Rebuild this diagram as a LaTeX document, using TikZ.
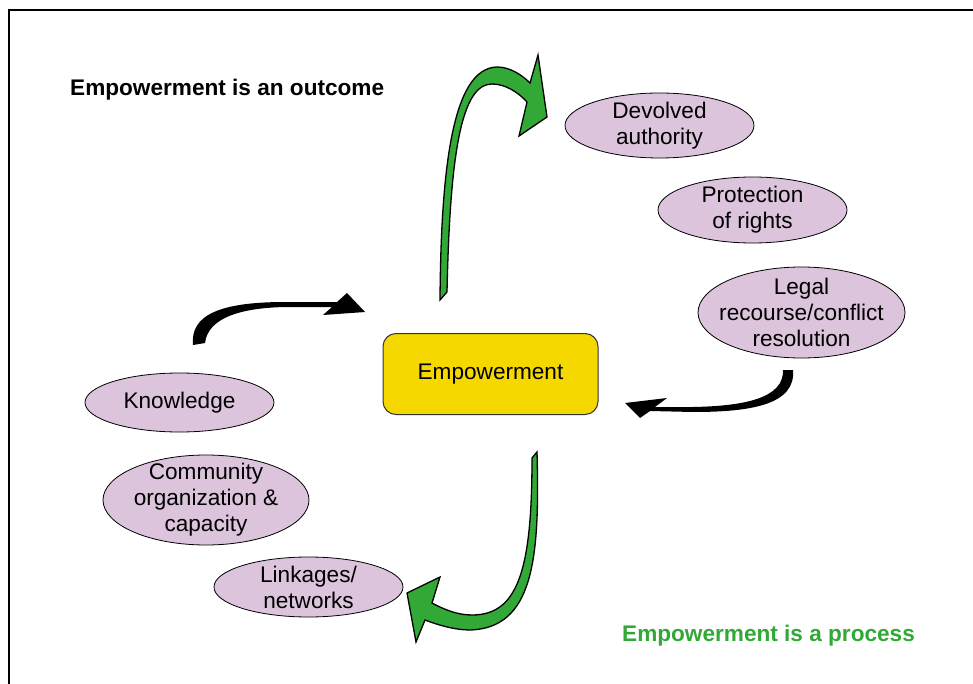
\documentclass[tikz,border=0pt]{standalone}
\usepackage{fontspec}
\setmainfont{Liberation Sans}
\usetikzlibrary{shapes.geometric, positioning}
\definecolor{lilac}{RGB}{220,196,220}
\definecolor{gold}{RGB}{245,216,0}
\definecolor{leaf}{RGB}{50,168,54}

\begin{document}
\begin{tikzpicture}[x=1pt, y=-1pt,
    goal/.style={draw, line width=0.8pt, ellipse, fill=lilac, inner sep=-12pt, align=center, font=\fontsize{22.6}{26}\selectfont},
    core/.style={draw=black!80, line width=1pt, rectangle, rounded corners=13pt, fill=gold, minimum width=215pt, minimum height=81pt, font=\fontsize{22.6}{26}\selectfont},
    heading/.style={anchor=west, inner sep=0pt, font=\fontsize{22.6}{26}\selectfont\bfseries},
    greenarrow/.style={draw=black, line width=1.3pt, fill=leaf, line join=miter},
    swing/.style={fill=black}]
    \useasboundingbox (0,0) rectangle (973,684);
    \draw[line width=1.5pt] (9,684) -- (9,10) -- (973,10);

    \node[heading] (outcome) at (70,90) {Empowerment is an outcome};
    \node[heading, text=leaf] (process) at (622,636) {Empowerment is a process};

    \node[core] (emp) at (490.5,374) {Empowerment};

    \node[goal, minimum width=189pt, minimum height=65pt] (devolved) at (659.5,125.5) {Devolved\\authority};
    \node[goal, minimum width=189pt, minimum height=66pt] (rights) at (752.5,210) {Protection\\of rights};
    \node[goal, minimum width=207pt, minimum height=91pt] (legal) at (801.5,312.5) {Legal\\recourse/conflict\\resolution};
    \node[goal, minimum width=189pt, minimum height=59pt] (know) at (179.5,402.5) {Knowledge};
    \node[goal, minimum width=206pt, minimum height=90pt] (community) at (206,500) {Community\\organization \&\\capacity};
    \node[goal, minimum width=189pt, minimum height=60pt] (links) at (308.5,587) {Linkages/\\networks};

    % green block arrows
    \filldraw[greenarrow] (440,300) .. controls (441,170) and (452,68) .. (497,67)
        .. controls (510,67) and (522,75) .. (530,83) -- (538,55) -- (547,117) -- (519,136) -- (527,102)
        .. controls (518,92) and (505,84) .. (492,84) .. controls (462,84) and (450,150) .. (447,292) -- cycle;
    \filldraw[greenarrow] (537,452) .. controls (540,560) and (533,628) .. (470,630)
        .. controls (455,630) and (438,625) .. (425,620) -- (416,642) -- (407,593) -- (440,577) -- (432,603)
        .. controls (445,610) and (458,615) .. (472,615) .. controls (518,615) and (532,570) .. (532,458) -- cycle;

    % black tapered arrows
    \fill[swing] (193,345) .. controls (190,315) and (220,302) .. (285,302) -- (337,302) -- (347,293) -- (365,312)
        -- (323,315) -- (332,307) -- (285,307) .. controls (240,308) and (208,318) .. (205,343) -- cycle;
    \fill[swing] (793,370) .. controls (796,405) and (750,412) .. (693,412) -- (650,411) -- (640,418) -- (625,403)
        -- (667,398) -- (655,407) -- (693,407) .. controls (745,406) and (784,398) .. (783,370) -- cycle;
\end{tikzpicture}
\end{document}
